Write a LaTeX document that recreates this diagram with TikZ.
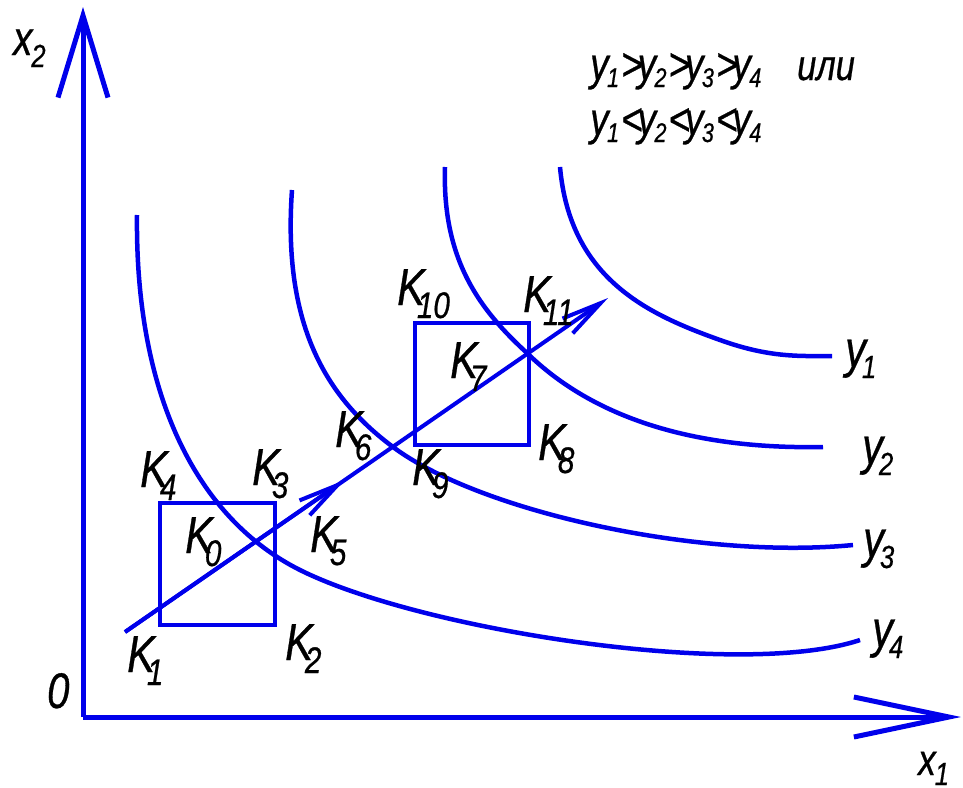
\documentclass[tikz,border=0pt]{standalone}
\usepackage{fontspec}
\setmainfont{Liberation Sans}[FakeStretch=0.8,FakeBold=0.6]
\usetikzlibrary{arrows.meta}
\definecolor{lb}{RGB}{0,0,235}
\newcommand\kl[1]{\fontsize{52}{52}\selectfont\itshape K\kern-8pt\raisebox{-13pt}{\fontsize{37}{37}\selectfont #1}}
\newcommand\yl[1]{\fontsize{52}{52}\selectfont\itshape y\kern-4pt\raisebox{-11pt}{\fontsize{32}{32}\selectfont #1}}
\newcommand\xlab[3]{\fontsize{#2}{#2}\selectfont\itshape x\kern-1pt\raisebox{-#3pt}{\fontsize{32}{32}\selectfont #1}}
\newcommand\fy[1]{y\kern-1.5pt\raisebox{-7pt}{\fontsize{27}{27}\selectfont #1}}
\begin{document}
\begin{tikzpicture}[x=1pt,y=-1pt,
  curve/.style={draw=lb,line width=4.5pt},
  axis/.style={draw=lb,line width=5pt},
  boxl/.style={draw=lb,line width=4pt},
  dirl/.style={draw=lb,line width=4pt},
  lab/.style={anchor=base west,inner sep=0pt,text=black},
  every node/.style={inner sep=0pt}]
\useasboundingbox (0,0) rectangle (963,787);
% axes
\coordinate (o) at (83,717);
\coordinate (ytip) at (83,7);
\coordinate (xtip) at (961,717);
\draw[axis,-{Straight Barb[length=82pt,width=50pt]}] (o) -- (ytip);
\draw[axis,-{Straight Barb[length=95pt,width=40pt]}] (o) -- (xtip);
\node[lab] (x2) at (13,55) {\xlab{2}{48}{12}};
\node[lab] (x1) at (918,775) {\xlab{1}{44}{10}};
\node[lab] (zero) at (47,708) {\fontsize{50}{50}\selectfont\itshape 0};
% curves
\draw[curve] (137,215) .. controls (135,400) and (200,520) .. (300,570)
             .. controls (420,630) and (740,680) .. (860,640);
\draw[curve] (292,190) .. controls (282,330) and (330,400) .. (393,447)
             .. controls (480,512) and (700,560) .. (853,545);
\draw[curve] (445,167) .. controls (442,260) and (480,310) .. (527,353)
             .. controls (580,405) and (670,450) .. (823,447);
\draw[curve] (560,167) .. controls (570,280) and (650,315) .. (720,340)
             .. controls (770,358) and (800,356) .. (832,356);
\node[lab] (y1) at (845,367) {\yl{1}};
\node[lab] (y2) at (862,464) {\yl{2}};
\node[lab] (y3) at (863,557) {\yl{3}};
\node[lab] (y4) at (872,647) {\yl{4}};
% boxes
\draw[boxl] (160,503) rectangle (275,625);
\draw[boxl] (415,323) rectangle (529,445);
% main direction line
\coordinate (s) at (125,632);
\coordinate (m) at (345,479.9);
\coordinate (t) at (608,298);
\draw[dirl,-{Straight Barb[length=40pt,width=18pt]}] (s) -- (t);
\draw[dirl,-{Straight Barb[length=40pt,width=18pt]}] (s) -- (m);
% K labels
\node[lab] (k4) at (140,487) {\kl{4}};
\node[lab] (k3) at (252,485) {\kl{3}};
\node[lab] (k0) at (185,553) {\kl{0}};
\node[lab] (k5) at (310,552) {\kl{5}};
\node[lab] (k1) at (127,672) {\kl{1}};
\node[lab] (k2) at (285,660) {\kl{2}};
\node[lab] (k10) at (397,305) {\kl{10}};
\node[lab] (k11) at (523,312) {\kl{11}};
\node[lab] (k7) at (450,378) {\kl{7}};
\node[lab] (k6) at (335,447) {\kl{6}};
\node[lab] (k9) at (412,485) {\kl{9}};
\node[lab] (k8) at (538,460) {\kl{8}};
% formula
\node[lab] (f1) at (590,80) {\fontsize{46}{46}\selectfont\itshape \fy{1}\kern2pt>\kern-5pt\fy{2}\kern2pt>\kern-5pt\fy{3}\kern2pt>\kern-5pt\fy{4}};
\node[lab] (ili) at (797,80) {\fontsize{43}{43}\selectfont\itshape или};
\node[lab] (f2) at (590,135) {\fontsize{46}{46}\selectfont\itshape \fy{1}\kern2pt<\kern-5pt\fy{2}\kern2pt<\kern-5pt\fy{3}\kern2pt<\kern-5pt\fy{4}};
\end{tikzpicture}
\end{document}
